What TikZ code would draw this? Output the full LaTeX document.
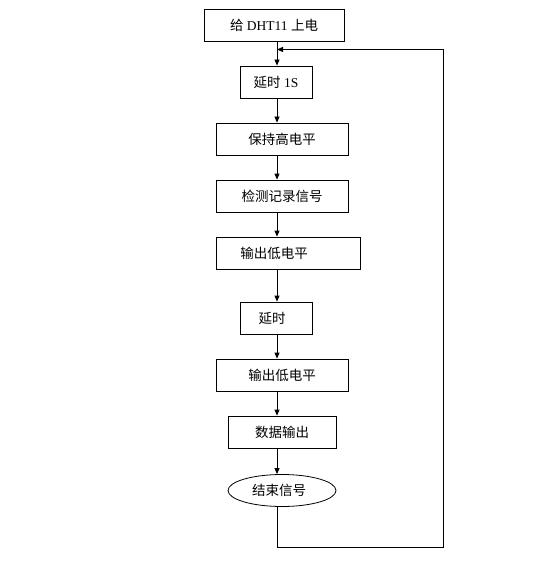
\documentclass[tikz,border=0pt]{standalone}
\usepackage{fontspec}
\setmainfont{Liberation Serif}
\newfontfamily\cjk{Noto Sans CJK SC}
\usetikzlibrary{arrows.meta,calc,positioning,shapes.geometric}

\begin{document}
\begin{tikzpicture}[x=1pt,y=-1pt,>={Triangle[length=6pt,width=5pt]},line width=0.8pt,every node/.style={draw,align=center,font=\fontsize{13.5}{15}\selectfont,minimum height=32pt,inner sep=2pt}]
\useasboundingbox (0,0) rectangle (552,564);
\coordinate (spine) at (277,0);
\node[minimum width=140pt] (a) at (274,25.5) {{\cjk 给} DHT11 {\cjk 上电}};
\node[minimum width=72pt] (b) at (276,82) {{\cjk 延时} 1S};
\node[minimum width=132pt] (c) at (282,139) {\cjk 保持高电平};
\node[minimum width=132pt] (d) at (282,196) {\cjk 检测记录信号};
\node[minimum width=144pt] (e) at (288,253) {\cjk 输出低电平\hspace*{28pt}};
\node[minimum width=72pt] (f) at (276,318) {\cjk 延时\hspace*{8pt}};
\node[minimum width=132pt] (g) at (282,375) {\cjk 输出低电平};
\node[minimum width=108pt] (h) at (282,432) {\cjk 数据输出};
\node[ellipse,minimum width=108pt] (i) at (282,490.5) {\cjk 结束信号\hspace*{6pt}};
\foreach \x/\y in {a/b,b/c,c/d,d/e,e/f,f/g,g/h,h/i} \draw[->] (\x.south -| spine) -- (\y.north -| spine);
\coordinate (back) at ($(a.south -| spine)!0.32!(b.north -| spine)$);
\draw[->] (i.south -| spine) -- ++(0,40.5) -| (443,0 |- back) -- (back);
\end{tikzpicture}
\end{document}
